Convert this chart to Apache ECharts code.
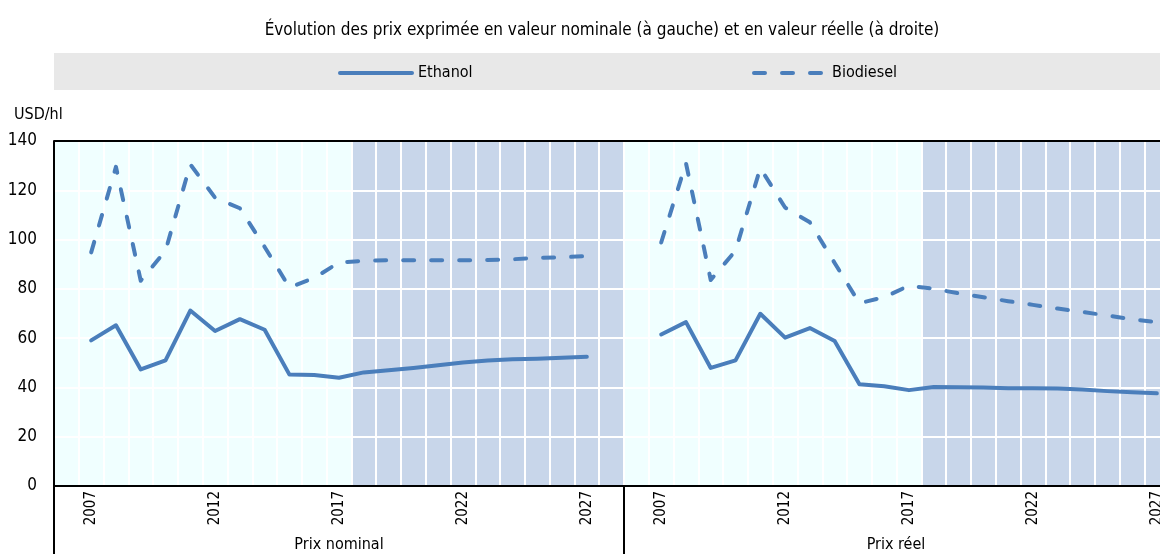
<!DOCTYPE html>
<html>
<head>
<meta charset="utf-8">
<script src="https://cdn.jsdelivr.net/npm/echarts@6/dist/echarts.min.js"></script>
<style>
  html, body { margin: 0; padding: 0; background: #fff; width: 1160px; height: 554px; overflow: hidden; }
  /* the right panel runs past the page edge, like the original export */
  #chart { width: 1194px; height: 554px; }
</style>
</head>
<body>
<div id="chart"></div>
<script>
// Years on each panel (2006 and 2028 are empty edge slots)
const years = ['2006', '2007', '2008', '2009', '2010', '2011', '2012', '2013', '2014', '2015', '2016', '2017',
  '2018', '2019', '2020', '2021', '2022', '2023', '2024', '2025', '2026', '2027', '2028'];
const yTicks = [0, 20, 40, 60, 80, 100, 120, 140];
const forecastStart = 2018;

// Nominal prices (USD/hl)
const ethanolNominal = [null, 59.1, 65.2, 47.3, 51.0, 71.2, 62.9, 67.7, 63.4, 45.2, 45.0, 43.9,
  46.1, 47.0, 47.9, 49.0, 50.1, 50.9, 51.4, 51.6, 52.0, 52.4, null];
const biodieselNominal = [null, 94.8, 129.5, 83.3, 95.5, 130.5, 117.0, 112.7, 97.0, 80.6, 84.4, 90.7,
  91.4, 91.6, 91.6, 91.6, 91.6, 91.7, 92.0, 92.6, 92.8, 93.3, null];

// Real prices (USD/hl)
const ethanolReal = [null, 61.5, 66.5, 47.9, 51.0, 69.9, 60.2, 64.1, 58.8, 41.3, 40.5, 38.9,
  40.2, 40.1, 40.0, 39.7, 39.7, 39.6, 39.2, 38.5, 38.0, 37.6, null];
const biodieselReal = [null, 98.8, 131.0, 83.6, 95.5, 129.0, 113.0, 107.0, 90.5, 74.2, 76.6, 81.3,
  80.0, 78.2, 76.6, 75.0, 73.5, 72.0, 70.6, 69.2, 67.6, 66.5, null];

const FONT = "'Liberation Sans Narrow', 'Arial Narrow', 'DejaVu Sans Condensed', sans-serif";
const BLUE = '#4a7ebb';
const SHADE = '#c8d6ea';
const LIGHT = '#f0ffff';

// projection shading: full-height bar from the first projected year
const shade = years.map(y => (Number(y) >= forecastStart ? yTicks[yTicks.length - 1] : null));

const chart = echarts.init(document.getElementById('chart'));

function xAxisFor(gridIndex) {
  return {
    type: 'category',
    gridIndex: gridIndex,
    data: years,
    z: 3,
    axisLine: { lineStyle: { color: '#000', width: 2 } },
    axisTick: { show: false },
    axisLabel: {
      interval: (i, v) => (Number(v) - 2007) % 5 === 0,
      rotate: 90,
      margin: 5,
      color: '#000',
      fontFamily: FONT,
      fontSize: 15
    },
    splitLine: { show: true, interval: 0, lineStyle: { color: '#fff', width: 2 } }
  };
}

function yAxisFor(gridIndex, labels) {
  return {
    type: 'value',
    gridIndex: gridIndex,
    min: 0,
    max: 140,
    interval: 20,
    z: 3,
    axisLine: { show: labels, lineStyle: { color: '#000', width: 2 } },
    axisTick: { show: false },
    axisLabel: {
      show: labels,
      margin: 17,
      color: '#000',
      fontFamily: FONT,
      fontSize: 17
    },
    splitLine: { show: true, lineStyle: { color: '#fff', width: 2 } }
  };
}

function lineSeries(name, data, gridIndex, dashed) {
  return {
    name: name,
    type: 'line',
    xAxisIndex: gridIndex,
    yAxisIndex: gridIndex,
    data: data,
    symbol: 'none',
    z: 5,
    lineStyle: {
      color: BLUE,
      width: 4,
      type: dashed ? [11, 17] : 'solid',
      cap: 'round',
      join: 'round'
    },
    itemStyle: { color: BLUE }
  };
}

function shadeSeries(gridIndex) {
  return {
    type: 'bar',
    xAxisIndex: gridIndex,
    yAxisIndex: gridIndex,
    data: shade,
    barCategoryGap: '0%',
    silent: true,
    z: 1,
    itemStyle: { color: SHADE }
  };
}

function legendFor(name, left) {
  return {
    data: [name],
    left: left,
    top: 65,
    padding: 0,
    itemWidth: 72,
    itemHeight: 12,
    itemGap: 5,
    itemStyle: { opacity: 0 },
    lineStyle: { width: 4 },
    textStyle: { fontFamily: FONT, fontSize: 16, color: '#000', padding: [0, 0, 0, 1] }
  };
}

const option = {
  animation: false,
  title: {
    text: 'Évolution des prix exprimée en valeur nominale (à gauche) et en valeur réelle (à droite)',
    left: 597,
    textAlign: 'center',
    top: 17,
    textStyle: { fontFamily: FONT, fontSize: 17, fontWeight: 'normal', color: '#000' }
  },
  legend: [legendFor('Ethanol', 338), legendFor('Biodiesel', 752)],
  grid: [
    { left: 54, top: 141, width: 570, height: 345, show: true, backgroundColor: LIGHT, borderWidth: 0 },
    { left: 624, top: 141, width: 570, height: 345, show: true, backgroundColor: LIGHT, borderWidth: 0 }
  ],
  xAxis: [xAxisFor(0), xAxisFor(1)],
  yAxis: [yAxisFor(0, true), yAxisFor(1, false)],
  series: [
    shadeSeries(0),
    shadeSeries(1),
    lineSeries('Ethanol', ethanolNominal, 0, false),
    lineSeries('Biodiesel', biodieselNominal, 0, true),
    lineSeries('Ethanol', ethanolReal, 1, false),
    lineSeries('Biodiesel', biodieselReal, 1, true)
  ],
  graphic: [
    // legend band
    { type: 'rect', z: -10, shape: { x: 54, y: 53, width: 1140, height: 37 }, style: { fill: '#e8e8e8' } },
    // unit
    { type: 'text', left: 14, top: 107, style: { text: 'USD/hl', fontFamily: FONT, fontSize: 16, fill: '#000' } },
    // frame lines
    { type: 'line', z: 10, shape: { x1: 54, y1: 141, x2: 1194, y2: 141 }, style: { stroke: '#000', lineWidth: 2 } },
    { type: 'line', z: 10, shape: { x1: 54, y1: 486, x2: 54, y2: 554 }, style: { stroke: '#000', lineWidth: 2 } },
    { type: 'line', z: 10, shape: { x1: 624, y1: 486, x2: 624, y2: 554 }, style: { stroke: '#000', lineWidth: 2 } },
    // panel names
    { type: 'text', x: 339, y: 545, style: { text: 'Prix nominal', fontFamily: FONT, fontSize: 16, fill: '#000', align: 'center', verticalAlign: 'middle' } },
    { type: 'text', x: 896, y: 545, style: { text: 'Prix réel', fontFamily: FONT, fontSize: 16, fill: '#000', align: 'center', verticalAlign: 'middle' } }
  ]
};

chart.setOption(option);
</script>
</body>
</html>
